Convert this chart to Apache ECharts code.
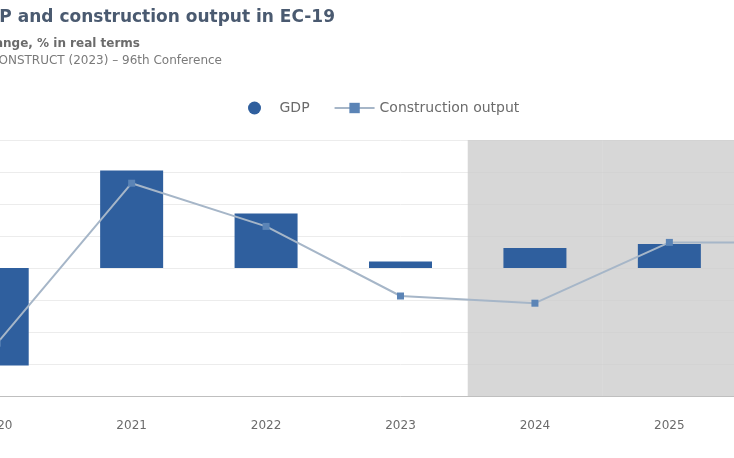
<!DOCTYPE html>
<html>
<head>
<meta charset="utf-8">
<script src="https://cdn.jsdelivr.net/npm/echarts@6/dist/echarts.min.js"></script>
<style>
html,body{margin:0;padding:0;background:#fff;overflow:hidden}
#wrap{position:relative;width:734px;height:458px;overflow:hidden}
#c{position:absolute;left:-100px;top:0;width:984px;height:458px}
</style>
</head>
<body>
<div id="wrap"><div id="c"></div></div>
<script>
var years = ['2020', '2021', '2022', '2023', '2024', '2025', '2026'];
var gdp = [-6.1, 6.1, 3.4, 0.4, 1.25, 1.5, 1.4];
var construction = [-4.7, 5.3, 2.6, -1.75, -2.2, 1.6, 1.6];
var forecastTop = [null, null, null, null, 8, 8, 8];
var forecastBottom = [null, null, null, null, -8, -8, -8];

var FONT = 'DejaVu Sans';
var chart = echarts.init(document.getElementById('c'));
chart.setOption({
  animation: false,
  backgroundColor: '#ffffff',
  title: [
    { text: 'GDP and construction output in EC-19', right: 549, top: 9, padding: 0,
      textStyle: { fontFamily: FONT, fontSize: 17, fontWeight: 'bold', color: '#4a5a70' } },
    { text: 'Annual change, % in real terms', right: 744, top: 38, padding: 0,
      textStyle: { fontFamily: FONT, fontSize: 12, fontWeight: 'bold', color: '#6b6b6b' } },
    { text: 'Source: EUROCONSTRUCT (2023) \u2013 96th Conference', right: 662, top: 55, padding: 0,
      textStyle: { fontFamily: FONT, fontSize: 12, fontWeight: 'normal', color: '#7a7a7a' } }
  ],
  legend: {
    left: 343, top: 96, itemWidth: 40, itemHeight: 13, itemGap: 24,
    data: [
      { name: 'GDP', icon: 'circle' },
      { name: 'Construction output' }
    ],
    textStyle: { fontFamily: FONT, fontSize: 14, color: '#6b6b6b' }
  },
  grid: { left: 30, right: 13, top: 140, bottom: 62, containLabel: false },
  xAxis: [
    { type: 'category', data: years, position: 'bottom',
      axisLine: { onZero: false, lineStyle: { color: '#bfbfbf', width: 1 } },
      axisTick: { show: false },
      axisLabel: { margin: 24, fontFamily: FONT, fontSize: 12, color: '#6b6b6b' } },
    { type: 'category', data: years, show: false }
  ],
  yAxis: {
    type: 'value', min: -8, max: 8, interval: 2,
    axisLabel: { show: false }, axisLine: { show: false }, axisTick: { show: false },
    splitLine: { lineStyle: { color: '#ececec', width: 1 } }
  },
  series: [
    { name: 'shadeTop', type: 'bar', xAxisIndex: 1, stack: 'shade', barWidth: '100%',
      data: forecastTop, itemStyle: { color: 'rgba(205,205,205,0.8)' }, z: 1, silent: true },
    { name: 'shadeBottom', type: 'bar', xAxisIndex: 1, stack: 'shade', barWidth: '100%',
      data: forecastBottom, itemStyle: { color: 'rgba(205,205,205,0.8)' }, z: 1, silent: true },
    { name: 'GDP', type: 'bar', xAxisIndex: 0, barWidth: 63, data: gdp,
      itemStyle: { color: '#2f5f9e' }, z: 3 },
    { name: 'Construction output', type: 'line', data: construction,
      symbol: 'rect', symbolSize: 7,
      lineStyle: { color: '#a6b6c8', width: 2 },
      itemStyle: { color: '#5b84b6' }, z: 4 }
  ]
});
</script>
</body>
</html>
